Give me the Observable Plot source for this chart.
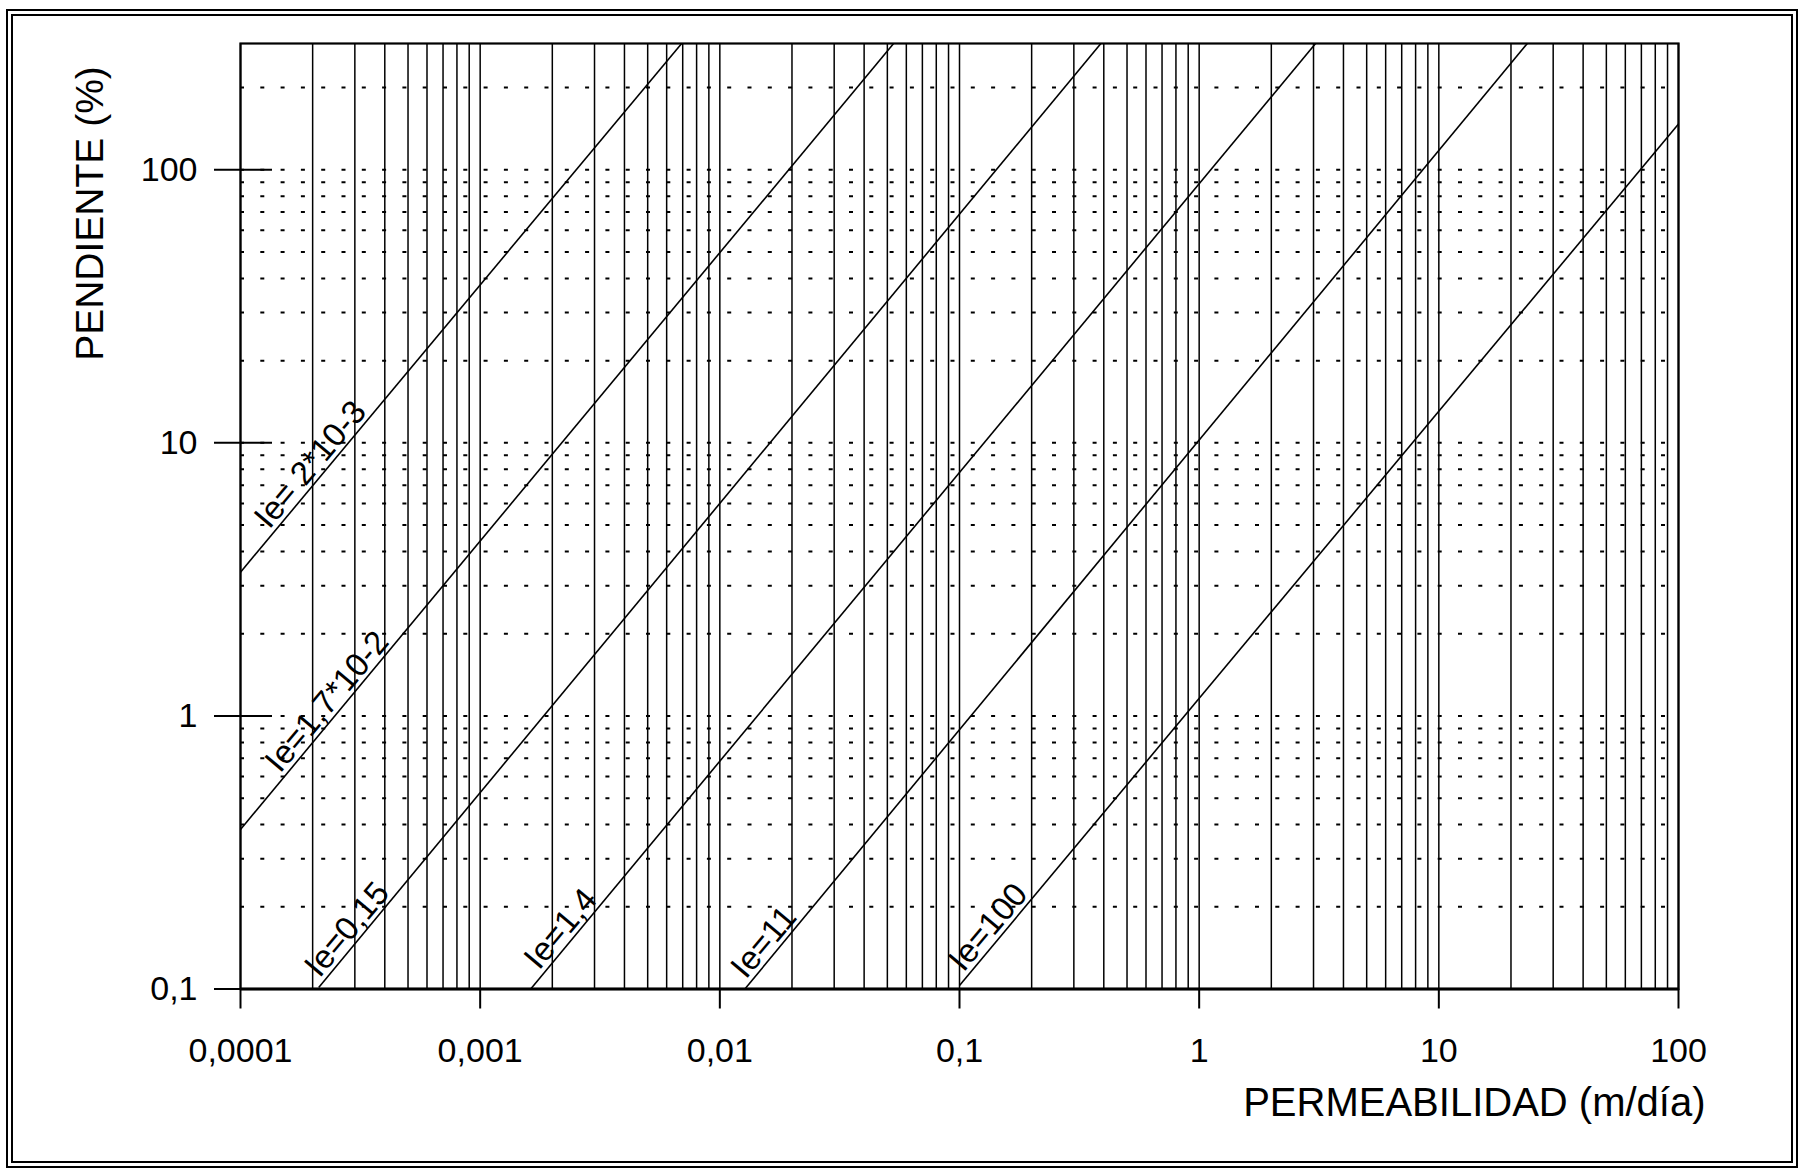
<!DOCTYPE html>
<html><head><meta charset="utf-8">
<script src="https://cdn.jsdelivr.net/npm/d3@7"></script>
<script src="https://cdn.jsdelivr.net/npm/@observablehq/plot@0.6"></script>
<style>
html,body{margin:0;padding:0;background:#fff;}
#wrap{position:relative;width:1801px;height:1175px;overflow:hidden;background:#fff;}
#border{position:absolute;left:6px;top:9px;width:1792px;height:1159px;box-sizing:border-box;border:7px double #000;pointer-events:none;}
#chart{position:absolute;left:0;top:0;}
</style></head><body>
<div id="wrap"><div id="chart"></div><div id="border"></div></div>
<script>
// Axis ticks and labels
const xTicks = [0.0001, 0.001, 0.01, 0.1, 1, 10, 100];
const xTickLabels = ["0,0001", "0,001", "0,01", "0,1", "1", "10", "100"];
const yTicks = [0.1, 1, 10, 100];
const yTickLabels = ["0,1", "1", "10", "100"];
const xTitle = "PERMEABILIDAD (m/día)";
const yTitle = "PENDIENTE (%)";

// Log grid
const gridMultipliers = [1, 2, 3, 4, 5, 6, 7, 8, 9];
const xGridDecades = [0.0001, 0.001, 0.01, 0.1, 1, 10];
const xGridExtra = [100];
const yGridDecades = [0.1, 1, 10];
const yGridExtra = [100, 200];

// Ie lines (end points)
const lineNames = ["Ie= 2*10-3", "Ie=1,7*10-2", "Ie=0,15", "Ie=1,4", "Ie=11", "Ie=100"];
const lineX1 = [0.0001, 0.0001, 0.000212, 0.001625, 0.01272, 0.1];
const lineY1 = [3.36, 0.384, 0.1013, 0.1, 0.1, 0.103];
const lineX2 = [0.00693, 0.0531, 0.389, 3.06, 23.4, 100];
const lineY2 = [290, 290, 290, 290, 290, 147];
const labelX = [0.000137, 0.000152, 0.000222, 0.00183, 0.01334, 0.108];

const xGrid = xGridDecades.flatMap(d => gridMultipliers.map(m => d * m)).concat(xGridExtra);
const yGrid = yGridDecades.flatMap(d => gridMultipliers.map(m => d * m)).concat(yGridExtra).filter(v => v > 0.1);

const lines = lineNames.map((name, i) => ({name, x1: lineX1[i], y1: lineY1[i], x2: lineX2[i], y2: lineY2[i]}));
const labels = lines.map((l, i) => {
  const lx = Math.log10(labelX[i]);
  const a = Math.log10(l.x1), b = Math.log10(l.x2);
  const ly = Math.log10(l.y1) + (Math.log10(l.y2) - Math.log10(l.y1)) * (lx - a) / (b - a);
  return {name: l.name, x: labelX[i], y: Math.pow(10, ly)};
});

const xLab = new Map(xTicks.map((v, i) => [v, xTickLabels[i]]));
const yLab = new Map(yTicks.map((v, i) => [v, yTickLabels[i]]));

const plot = Plot.plot({
  width: 1801, height: 1175,
  marginLeft: 240, marginRight: 123, marginTop: 43, marginBottom: 186.5,
  style: {fontFamily: "'Liberation Sans', Arial, sans-serif", color: "#000", background: "transparent"},
  x: {type: "log", domain: [0.0001, 100]},
  y: {type: "log", domain: [0.1, 290]},
  marks: [
    Plot.ruleY(yGrid, {stroke: "#000", strokeWidth: 2, strokeDasharray: "4,16.3"}),
    Plot.ruleX(xGrid, {stroke: "#000", strokeWidth: 1.5}),
    Plot.link(lines, {x1: "x1", y1: "y1", x2: "x2", y2: "y2", stroke: "#000", strokeWidth: 1.6}),
    Plot.text(labels, {x: "x", y: "y", text: "name", rotate: -50, textAnchor: "start", lineAnchor: "bottom", fontSize: 33, dx: -4, dy: -3, fill: "#000"}),
    Plot.frame({stroke: "#000", strokeWidth: 2.2}),
    Plot.ruleY([0.1], {stroke: "#000", strokeWidth: 3}),
    Plot.axisX(xTicks, {tickFormat: d => xLab.get(d), tickSize: 20, tickPadding: 29, fontSize: 34, label: null, strokeWidth: 2}),
    Plot.axisY(yTicks, {tickFormat: d => yLab.get(d), tickSize: 58, dx: 32, tickPadding: 17, fontSize: 34, label: null, strokeWidth: 2}),
    Plot.text([xTitle], {text: d => d, frameAnchor: "bottom-right", dx: 27, dy: 114, textAnchor: "end", lineAnchor: "middle", fontSize: 40, fill: "#000"}),
    Plot.text([yTitle], {text: d => d, frameAnchor: "top-left", dx: -150, dy: 170, rotate: -90, textAnchor: "middle", lineAnchor: "middle", fontSize: 39, fill: "#000"})
  ]
});
document.getElementById("chart").appendChild(plot);
</script>
</body></html>
